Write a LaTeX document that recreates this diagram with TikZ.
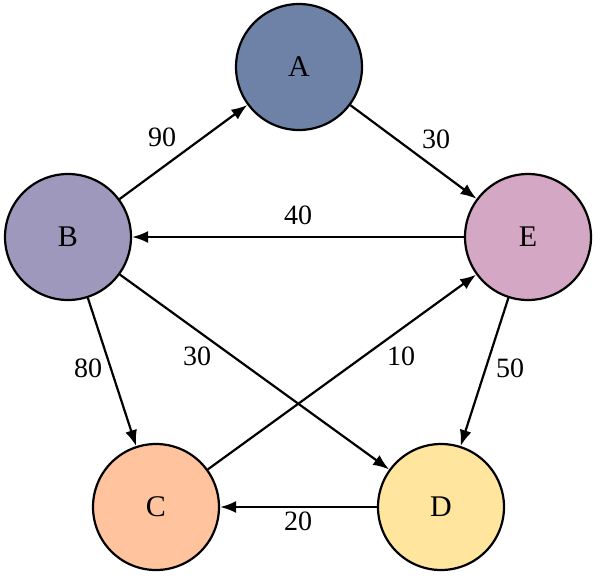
\documentclass[tikz,border=0pt]{standalone}
\usepackage{fontspec}
\setmainfont{Liberation Serif}
\usetikzlibrary{arrows.meta}
\definecolor{cA}{HTML}{6E82A8}
\definecolor{cB}{HTML}{9E99BC}
\definecolor{cC}{HTML}{FFC39E}
\definecolor{cD}{HTML}{FFE59E}
\definecolor{cE}{HTML}{D4A8C4}
\newcommand{\bigtxt}{\fontsize{30}{32}\selectfont}
\newcommand{\lbltxt}{\fontsize{28}{30}\selectfont}
\tikzset{
  vert/.style={circle, draw=black, line width=2.2pt, minimum size=126pt, inner sep=0pt, font=\bigtxt},
  edge/.style={line width=2.2pt, -{Latex[length=16pt,width=12pt]}},
  lbl/.style={font=\lbltxt, inner sep=0pt}
}
\begin{document}
\begin{tikzpicture}[x=1pt,y=-1pt]
\useasboundingbox (0,0) rectangle (599,576);
\node[vert, fill=cA] (A) at (299,67) {A};
\node[vert, fill=cB] (B) at (68,237) {B};
\node[vert, fill=cE] (E) at (528,237) {E};
\node[vert, fill=cC] (C) at (156,507) {C};
\node[vert, fill=cD] (D) at (441,507) {D};
\draw[edge] (B) -- (A);
\draw[edge] (A) -- (E);
\draw[edge] (E) -- (B);
\draw[edge] (B) -- (C);
\draw[edge] (B) -- (D);
\draw[edge] (C) -- (E);
\draw[edge] (E) -- (D);
\draw[edge] (D) -- (C);
\node[lbl] (l1) at (162,137) {90};
\node[lbl] (l2) at (436,139) {30};
\node[lbl] (l3) at (298,215) {40};
\node[lbl] (l4) at (88,368) {80};
\node[lbl] (l5) at (197,356) {30};
\node[lbl] (l6) at (401,356) {10};
\node[lbl] (l7) at (510,368) {50};
\node[lbl] (l8) at (298,521) {20};
\end{tikzpicture}
\end{document}
